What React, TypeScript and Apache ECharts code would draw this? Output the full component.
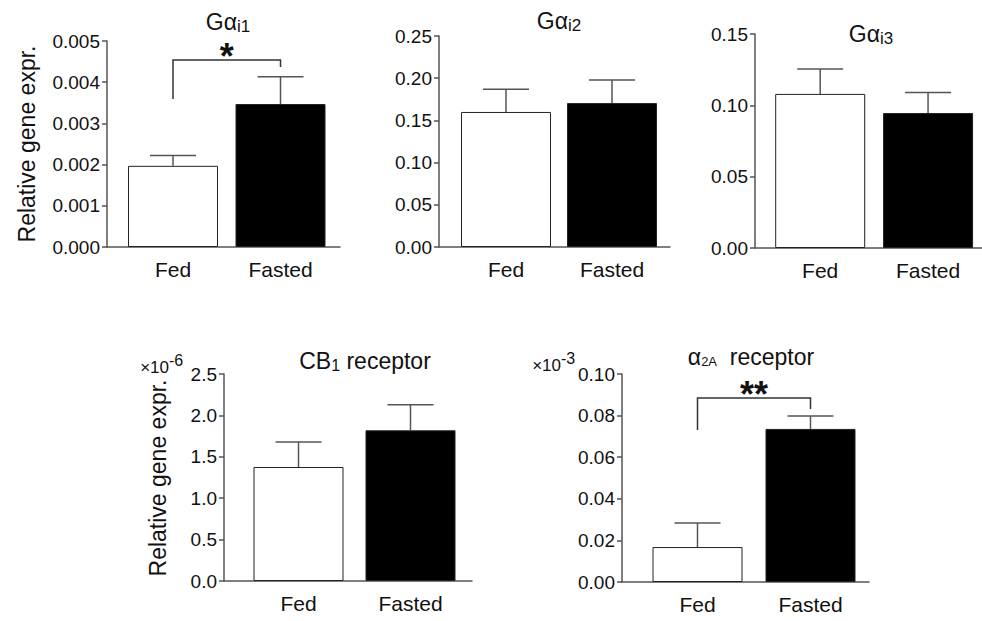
import React, { useEffect, useRef } from "react";
import * as echarts from "echarts";

// ---------- data ----------
const categories = ["Fed", "Fasted"];

const gai1Means = [0.00197, 0.00347];
const gai1Upper = [0.00222, 0.00413];
const gai2Means = [0.16, 0.1705];
const gai2Upper = [0.187, 0.198];
const gai3Means = [0.108, 0.0946];
const gai3Upper = [0.1255, 0.109];
const cb1Means = [1.377, 1.82];
const cb1Upper = [1.68, 2.13];
const a2aMeans = [0.0168, 0.0736];
const a2aUpper = [0.0284, 0.0798];

// axis scales: [max, interval, decimals]
const gai1Scale = [0.005, 0.001, 3];
const gai2Scale = [0.25, 0.05, 2];
const gai3Scale = [0.15, 0.05, 2];
const cb1Scale = [2.5, 0.5, 1];
const a2aScale = [0.1, 0.02, 2];

// significance brackets: [bracket height, left foot, right foot]
const gai1Bracket = [0.00454, 0.00359, 0.00437];
const a2aBracket = [0.0885, 0.0731, 0.0832];
const gai1Sig = "*";
const a2aSig = "**";

const yTitle = "Relative gene expr.";
const cb1Exponent = ["×10", "-6"];
const a2aExponent = ["×10", "-3"];

// ---------- layout ----------
const FONT = '"Liberation Sans", Arial, Helvetica, sans-serif';

type Panel = {
  means: number[];
  upper: number[];
  scale: number[];
  axisX: number;
  endX: number;
  top: number;
  height: number;
  c0: number;
  c1: number;
  bracket?: number[];
  sig?: string;
};

const panels: Panel[] = [
  { means: gai1Means, upper: gai1Upper, scale: gai1Scale, axisX: 107, endX: 340, top: 41, height: 206, c0: 173, c1: 280.5, bracket: gai1Bracket, sig: gai1Sig },
  { means: gai2Means, upper: gai2Upper, scale: gai2Scale, axisX: 439, endX: 670, top: 36, height: 211, c0: 506, c1: 612 },
  { means: gai3Means, upper: gai3Upper, scale: gai3Scale, axisX: 755, endX: 982, top: 34, height: 214, c0: 820.5, c1: 929 },
  { means: cb1Means, upper: cb1Upper, scale: cb1Scale, axisX: 224, endX: 472, top: 374, height: 207, c0: 298.5, c1: 410.5 },
  { means: a2aMeans, upper: a2aUpper, scale: a2aScale, axisX: 622, endX: 869, top: 374, height: 208, c0: 697.5, c1: 810.5, bracket: a2aBracket, sig: a2aSig },
];

const AXIS_COLOR = "#555";
const TEXT_COLOR = "#111";

function buildOption() {
  const grid: any[] = [];
  const xAxis: any[] = [];
  const yAxis: any[] = [];
  const series: any[] = [];

  panels.forEach((p, i) => {
    const [max, interval, dec] = p.scale;
    const band = p.c1 - p.c0;
    // frame grid
    grid.push({ left: p.axisX, top: p.top, width: p.endX - p.axisX, height: p.height });
    // data grid
    grid.push({ left: p.c0 - band / 2, top: p.top, width: band * 2, height: p.height });
    const fi = i * 2;
    const di = i * 2 + 1;
    xAxis.push({
      type: "category",
      gridIndex: fi,
      data: categories,
      axisLine: { show: true, lineStyle: { color: AXIS_COLOR, width: 1.5 } },
      axisTick: { show: false },
      axisLabel: { show: false },
      splitLine: { show: false },
    });
    xAxis.push({
      type: "category",
      gridIndex: di,
      data: categories,
      axisLine: { show: false },
      axisTick: { show: false },
      axisLabel: { show: true, color: TEXT_COLOR, fontSize: 21, fontFamily: FONT, margin: 12 },
      splitLine: { show: false },
    });
    yAxis.push({
      type: "value",
      gridIndex: fi,
      min: 0,
      max,
      interval,
      axisLine: { show: true, lineStyle: { color: AXIS_COLOR, width: 1.5 } },
      axisTick: { show: true, inside: false, length: 5, lineStyle: { color: AXIS_COLOR, width: 1.5 } },
      axisLabel: {
        show: true,
        color: TEXT_COLOR,
        fontSize: 19,
        fontFamily: FONT,
        margin: 7,
        formatter: (v: number) => v.toFixed(dec),
      },
      splitLine: { show: false },
    });
    yAxis.push({ type: "value", gridIndex: di, min: 0, max, interval, show: false });

    series.push({
      type: "bar",
      xAxisIndex: di,
      yAxisIndex: di,
      barWidth: 90,
      silent: true,
      data: p.means.map((v, k) => ({ value: v, itemStyle: { color: k === 0 ? "#ffffff" : "#000000" } })),
      itemStyle: { borderColor: "#222", borderWidth: 1 },
      z: 2,
    });
    series.push({
      type: "custom",
      xAxisIndex: di,
      yAxisIndex: di,
      silent: true,
      encode: { x: 0, y: 2 },
      data: p.means.map((m, k) => [k, m, p.upper[k]]),
      renderItem: (params: any, api: any) => {
        const base = api.coord([api.value(0), api.value(1)]);
        const top = api.coord([api.value(0), api.value(2)]);
        const style = { stroke: "#555", lineWidth: 1.5 };
        return {
          type: "group",
          children: [
            { type: "line", shape: { x1: base[0], y1: base[1], x2: top[0], y2: top[1] }, style },
            { type: "line", shape: { x1: top[0] - 23, y1: top[1], x2: top[0] + 23, y2: top[1] }, style },
          ],
        };
      },
      z: 3,
    });
    if (p.bracket) {
      const sig = p.sig;
      series.push({
        type: "custom",
        xAxisIndex: di,
        yAxisIndex: di,
        silent: true,
        clip: false,
        encode: { x: 0, y: 2 },
        data: [[0, 1, p.bracket[0], p.bracket[1], p.bracket[2]]],
        renderItem: (params: any, api: any) => {
          const l = api.coord([api.value(0), api.value(3)]);
          const r = api.coord([api.value(1), api.value(4)]);
          const yt = api.coord([api.value(0), api.value(2)])[1];
          return {
            type: "group",
            children: [
              {
                type: "polyline",
                shape: { points: [[l[0], l[1]], [l[0], yt], [r[0], yt], [r[0], r[1]]] },
                style: { stroke: "#333", lineWidth: 1.5, fill: "none" },
              },
              {
                type: "text",
                x: (l[0] + r[0]) / 2,
                y: yt - 3.5,
                style: {
                  text: sig,
                  align: "center",
                  verticalAlign: "middle",
                  fontSize: 36,
                  fontWeight: "bold",
                  fontFamily: FONT,
                  fill: TEXT_COLOR,
                },
              },
            ],
          };
        },
        z: 4,
      });
    }
  });

  const titleRich = (main: number, sub: number, subPad: number) => ({
    m: { fontSize: main, lineHeight: 24, verticalAlign: "top", fontFamily: FONT, fill: TEXT_COLOR, color: TEXT_COLOR },
    s: { fontSize: sub, lineHeight: 18, padding: [subPad, 0, 0, 0], verticalAlign: "top", fontFamily: FONT, fill: TEXT_COLOR, color: TEXT_COLOR },
  });

  const titleText = (x: number, y: number, text: string, rich: any) => ({
    type: "text",
    x,
    y,
    silent: true,
    style: { text, rich, align: "center", verticalAlign: "top", fill: TEXT_COLOR, fontFamily: FONT },
  });

  const graphic: any[] = [
    titleText(228, 10, "{m|Gα}{s|i1}", titleRich(23, 17, 8)),
    titleText(559, 9, "{m|Gα}{s|i2}", titleRich(23, 17, 8)),
    titleText(871, 22, "{m|Gα}{s|i3}", titleRich(23, 17, 8)),
    titleText(365, 349, "{m|CB}{s|1}{m| receptor}", titleRich(23, 16, 8)),
    titleText(751, 345, "{m|α}{s|2A}{m|  receptor}", {
      m: { fontSize: 23, lineHeight: 24, verticalAlign: "top", fontFamily: FONT, color: TEXT_COLOR },
      s: { fontSize: 13, lineHeight: 14, padding: [10, 0, 0, 0], verticalAlign: "top", fontFamily: FONT, color: TEXT_COLOR },
    }),
    {
      type: "text",
      x: 27,
      y: 144,
      rotation: Math.PI / 2,
      silent: true,
      style: { text: yTitle, align: "center", verticalAlign: "middle", fontSize: 23, fontFamily: FONT, fill: TEXT_COLOR },
    },
    {
      type: "text",
      x: 158,
      y: 478,
      rotation: Math.PI / 2,
      silent: true,
      style: { text: yTitle, align: "center", verticalAlign: "middle", fontSize: 23, fontFamily: FONT, fill: TEXT_COLOR },
    },
    { type: "text", x: 169, y: 367, silent: true, style: { text: cb1Exponent[0], align: "right", verticalAlign: "middle", fontSize: 17, fontFamily: FONT, fill: TEXT_COLOR } },
    { type: "text", x: 169, y: 360, silent: true, style: { text: cb1Exponent[1], align: "left", verticalAlign: "middle", fontSize: 16, fontFamily: FONT, fill: TEXT_COLOR } },
    { type: "text", x: 561, y: 365, silent: true, style: { text: a2aExponent[0], align: "right", verticalAlign: "middle", fontSize: 17, fontFamily: FONT, fill: TEXT_COLOR } },
    { type: "text", x: 561, y: 358, silent: true, style: { text: a2aExponent[1], align: "left", verticalAlign: "middle", fontSize: 16, fontFamily: FONT, fill: TEXT_COLOR } },
  ];

  return {
    animation: false,
    backgroundColor: "#ffffff",
    textStyle: { fontFamily: FONT },
    grid,
    xAxis,
    yAxis,
    series,
    graphic,
  };
}

export default function App() {
  const ref = useRef<HTMLDivElement>(null);
  useEffect(() => {
    if (!ref.current) return;
    const chart = echarts.init(ref.current, undefined, { renderer: "svg" });
    chart.setOption(buildOption() as any);
    return () => chart.dispose();
  }, []);
  return (
    <div
      ref={ref}
      style={{ position: "fixed", left: 0, top: 0, width: 982, height: 621, background: "#fff" }}
    />
  );
}
